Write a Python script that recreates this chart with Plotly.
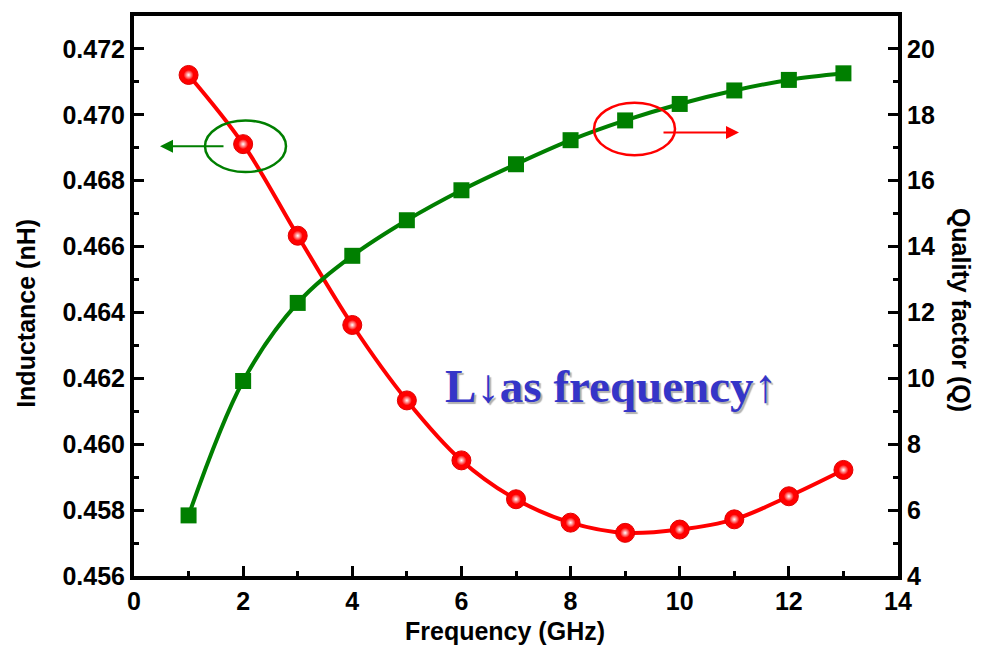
import plotly.graph_objects as go

freq = [1, 2, 3, 4, 5, 6, 7, 8, 9, 10, 11, 12, 13]
inductance = [0.47121, 0.46911, 0.46633, 0.46362, 0.46133, 0.45951, 0.45833,
              0.45762, 0.45731, 0.45741, 0.45772, 0.45842, 0.45922]
quality = [5.84, 9.92, 12.29, 13.72, 14.80, 15.71, 16.50, 17.23, 17.83,
           18.33, 18.74, 19.06, 19.26]

x_ticks = [0, 2, 4, 6, 8, 10, 12, 14]
yl_ticks = [0.456, 0.458, 0.460, 0.462, 0.464, 0.466, 0.468, 0.470, 0.472]
yr_ticks = [4, 6, 8, 10, 12, 14, 16, 18, 20]

RED = "#ff0000"
GREEN = "#007f00"
FONT = "Liberation Sans"

# plot box in pixels
L, R, T, B = 134, 898, 11.5, 576.5
XR = [0, 14]
Y2R = [4, 21]


def px_x(px):
    return XR[0] + (px - L) / (R - L) * (XR[1] - XR[0])


def px_y2(py):
    return Y2R[0] + (B - py) / (B - T) * (Y2R[1] - Y2R[0])


fig = go.Figure()

fig.add_trace(go.Scatter(
    x=freq, y=inductance, mode="lines+markers", line=dict(color=RED, width=4, shape="spline"),
    marker=dict(symbol="circle", size=19, color=RED, line=dict(color="#e00000", width=1)),
    yaxis="y", showlegend=False))
fig.add_trace(go.Scatter(
    x=freq, y=inductance, mode="markers",
    marker=dict(symbol="circle", size=10, color=RED,
                gradient=dict(type="radial", color="white"), line=dict(width=0)),
    yaxis="y", showlegend=False, hoverinfo="skip"))
fig.add_trace(go.Scatter(
    x=freq, y=quality, mode="lines+markers", line=dict(color=GREEN, width=4, shape="spline"),
    marker=dict(symbol="square", size=16, color=GREEN, line=dict(width=0)),
    yaxis="y2", showlegend=False))

tickfont = dict(family=FONT, size=25, color="black", weight="bold")
common = dict(showline=True, linecolor="black", linewidth=4, ticks="inside",
              ticklen=10, tickwidth=3, tickcolor="black", showgrid=False,
              zeroline=False, tickfont=tickfont)

fig.update_layout(
    width=990, height=648,
    margin=dict(l=L, r=990 - R, t=T, b=648 - B),
    paper_bgcolor="white", plot_bgcolor="white",
    xaxis=dict(range=XR, tickvals=x_ticks, mirror=True,
               minor=dict(ticks="inside", ticklen=5, tickwidth=3, tickcolor="black", dtick=1, tick0=0),
               **common),
    yaxis=dict(range=[0.456, 0.473], tickvals=yl_ticks, tickformat=".3f",
               minor=dict(ticks="inside", ticklen=5, tickwidth=3, tickcolor="black", dtick=0.001, tick0=0.456),
               **common),
    yaxis2=dict(range=Y2R, tickvals=yr_ticks, overlaying="y", side="right",
                minor=dict(ticks="inside", ticklen=5, tickwidth=3, tickcolor="black", dtick=1, tick0=4),
                **common),
)

titlefont = dict(family=FONT, size=25, color="black", weight="bold")
fig.add_annotation(text="Frequency (GHz)", xref="paper", yref="paper",
                   x=(505 - L) / (R - L), y=(B - 632) / (B - T), showarrow=False,
                   font=titlefont, xanchor="center", yanchor="middle")
fig.add_annotation(text="Inductance (nH)", xref="paper", yref="paper",
                   x=(26 - L) / (R - L), y=(B - 311) / (B - T), showarrow=False,
                   font=titlefont, textangle=-90, xanchor="center", yanchor="middle")
fig.add_annotation(text="Quality factor (Q)", xref="paper", yref="paper",
                   x=(961 - L) / (R - L), y=(B - 308) / (B - T), showarrow=False,
                   font=titlefont, textangle=90, xanchor="center", yanchor="middle")

# big label with shadow
label = "L↓as frequency↑"
fig.add_annotation(text=label, xref="x", yref="y2", x=px_x(611), y=px_y2(385),
                   showarrow=False, xanchor="center", yanchor="middle",
                   font=dict(family="Liberation Serif", size=47, color="#3535c8", weight="bold",
                             shadow="2px 2px 1px #b0b0b0"))

# ellipses
fig.add_shape(type="circle", xref="x", yref="y2", x0=px_x(205), x1=px_x(286),
              y0=px_y2(169), y1=px_y2(117), line=dict(color=GREEN, width=2.5))
fig.add_shape(type="circle", xref="x", yref="y2", x0=px_x(594), x1=px_x(675),
              y0=px_y2(152), y1=px_y2(99), line=dict(color=RED, width=2.5))

# arrows
fig.add_annotation(xref="x", yref="y2", axref="x", ayref="y2",
                   x=px_x(160), y=px_y2(143), ax=px_x(225), ay=px_y2(143),
                   showarrow=True, arrowhead=2, arrowsize=1.3, arrowwidth=2, arrowcolor=GREEN, text="")
fig.add_annotation(xref="x", yref="y2", axref="x", ayref="y2",
                   x=px_x(739), y=px_y2(129), ax=px_x(662), ay=px_y2(129),
                   showarrow=True, arrowhead=2, arrowsize=1.3, arrowwidth=2, arrowcolor=RED, text="")

fig.write_html("out.html", config={"displayModeBar": False},
               post_script="document.body.style.margin='0';document.body.style.overflow='hidden';")
